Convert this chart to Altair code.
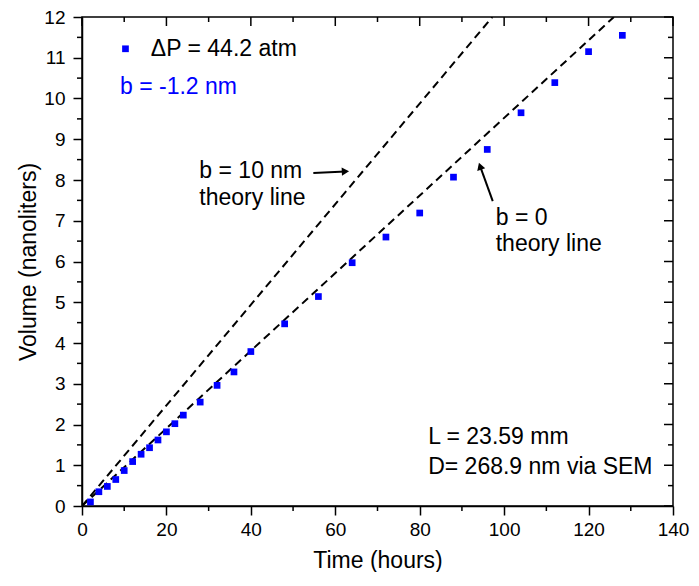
import altair as alt
import pandas as pd

# ---- data ----
times = [2, 4, 6, 8, 10, 12, 14, 16, 18, 20, 22, 24, 28, 32, 36, 40, 48, 56, 64, 72, 80, 88, 96, 104, 112, 120, 128]
volumes = [0.10, 0.35, 0.48, 0.65, 0.87, 1.09, 1.27, 1.43, 1.62, 1.82, 2.02, 2.23, 2.55, 2.96, 3.29, 3.79,
           4.47, 5.14, 5.97, 6.60, 7.19, 8.07, 8.75, 9.65, 10.39, 11.15, 11.55]

line_names = ["b0", "b0", "b10", "b10"]
line_t = [0, 126, 0, 97.2]
line_v = [0, 12, 0, 12]

x_major = [0, 20, 40, 60, 80, 100, 120, 140]
x_minor = [10, 30, 50, 70, 90, 110, 130]
y_major = list(range(0, 13))
y_minor = [0.5, 1.5, 2.5, 3.5, 4.5, 5.5, 6.5, 7.5, 8.5, 9.5, 10.5, 11.5]

text_labels = ["\u0394P = 44.2 atm", "b = -1.2 nm", "b = 10 nm", "theory line", "b = 0", "theory line",
               "L = 23.59 mm", "D= 268.9 nm via SEM"]
text_t = [16.3, 9.0, 27.8, 27.8, 98.0, 98.0, 82.0, 82.0]
text_v = [11.22, 10.29, 8.21, 7.56, 7.07, 6.42, 1.69, 0.96]
text_colors = ["black", "#0000ff", "black", "black", "black", "black", "black", "black"]

legend_t = [10.3]
legend_v = [11.22]

arrow_t = [54.8, 97.3]
arrow_v = [8.17, 7.48]
arrow_t2 = [62.4, 94.3]
arrow_v2 = [8.21, 8.34]
arrow_angle = [357.5, 251.5]

BLUE = "#0000ff"
FONT = "Liberation Sans"

xs = alt.Scale(domain=[0, 140], nice=False, zero=False)
ys = alt.Scale(domain=[0, 12], nice=False, zero=False)

xaxis = alt.Axis(values=x_major, format="d", tickSize=9, labelFontSize=19,
                 titleFontSize=23, titleFontWeight="normal", labelPadding=5,
                 titlePadding=10, title="Time (hours)", labelFlush=False)
yaxis = alt.Axis(values=y_major, format="d", tickSize=9, labelFontSize=19,
                 titleFontSize=23, titleFontWeight="normal", labelPadding=8,
                 titlePadding=3, title="Volume (nanoliters)", labelFlush=False)

def X(f):
    return alt.X(f, scale=xs, axis=xaxis, title="Time (hours)")

def Y(f):
    return alt.Y(f, scale=ys, axis=yaxis, title="Volume (nanoliters)")

pts = pd.DataFrame({"t": times, "v": volumes})
lines = pd.DataFrame({"series": line_names, "t": line_t, "v": line_v})
texts = pd.DataFrame({"t": text_t, "v": text_v, "label": text_labels, "color": text_colors})
legend = pd.DataFrame({"t": legend_t, "v": legend_v})
arrows = pd.DataFrame({"t": arrow_t, "v": arrow_v, "t2": arrow_t2, "v2": arrow_v2, "ang": arrow_angle})

points = alt.Chart(pts).mark_square(size=45, color=BLUE, opacity=1).encode(x=X("t:Q"), y=Y("v:Q"))

theory = alt.Chart(lines).mark_line(color="black", strokeWidth=2, strokeDash=[8, 5], clip=True).encode(
    x=X("t:Q"), y=Y("v:Q"), detail="series:N",
)

leg = alt.Chart(legend).mark_square(size=45, color=BLUE, opacity=1).encode(x=X("t:Q"), y=Y("v:Q"))

txt = alt.Chart(texts).mark_text(align="left", baseline="middle", fontSize=23, font=FONT).encode(
    x=X("t:Q"), y=Y("v:Q"), text="label:N", color=alt.Color("color:N", scale=None),
)

shaft = alt.Chart(arrows).mark_rule(color="black", strokeWidth=2).encode(
    x=X("t:Q"), y=Y("v:Q"), x2="t2:Q", y2="v2:Q",
)

head = alt.Chart(arrows).mark_point(shape="triangle-right", filled=True, size=70, color="black", opacity=1).encode(
    x=X("t2:Q"), y=Y("v2:Q"), angle=alt.Angle("ang:Q", scale=None),
)

H = 489
W = 591

def xrule(vals, y1, y2):
    return alt.Chart(pd.DataFrame({"t": vals})).mark_rule(color="black", strokeWidth=1.5).encode(
        x=X("t:Q"), y=alt.value(y1), y2=alt.value(y2))

def yrule(vals, x1, x2):
    return alt.Chart(pd.DataFrame({"v": vals})).mark_rule(color="black", strokeWidth=1.5).encode(
        y=Y("v:Q"), x=alt.value(x1), x2=alt.value(x2))

ticks = [
    xrule(x_minor, H, H + 5),      # bottom minor, outward
    xrule(x_major, 0, 9),          # top major, inward
    xrule(x_minor, 0, 5),          # top minor, inward
    yrule(y_minor, -5, 0),         # left minor, outward
    yrule(y_major, W - 9, W),      # right major, inward
    yrule(y_minor, W - 5, W),      # right minor, inward
]

chart = alt.layer(theory, points, leg, txt, shaft, head, *ticks).properties(
    width=W, height=H, autosize="none",
    padding={"left": 74, "top": 9, "right": 18, "bottom": 66},
).configure_view(stroke="black", strokeWidth=1.5).configure_axis(
    domainColor="black", tickColor="black", labelColor="black", titleColor="black",
    domainWidth=1.5, tickWidth=1.5, grid=False, labelFont=FONT, titleFont=FONT,
).configure_text(font=FONT)

chart.save("out.html", embed_options={"renderer": "svg", "actions": False})
